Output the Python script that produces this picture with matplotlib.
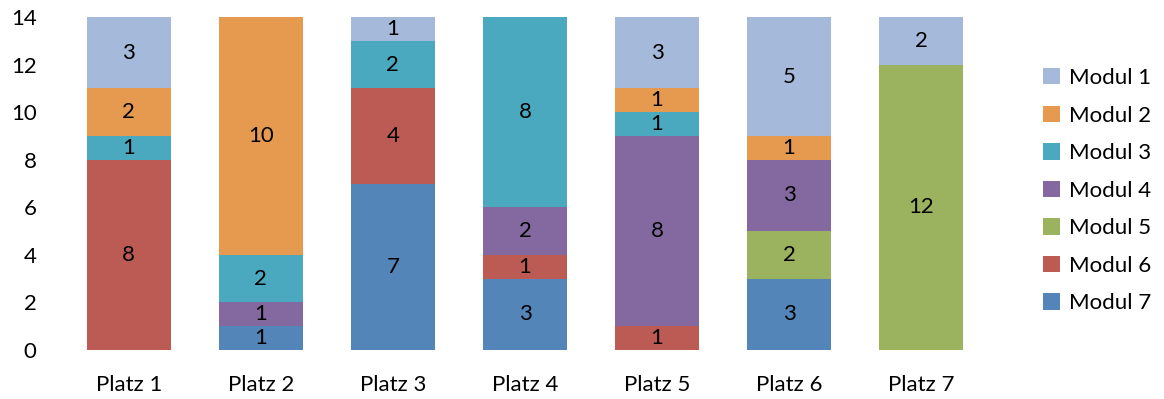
import numpy as np
import matplotlib.pyplot as plt

plt.rcParams['font.family'] = ['Lato', 'DejaVu Sans']

plaetze = ['Platz 1', 'Platz 2', 'Platz 3', 'Platz 4', 'Platz 5', 'Platz 6', 'Platz 7']
module = ['Modul 7', 'Modul 6', 'Modul 5', 'Modul 4', 'Modul 3', 'Modul 2', 'Modul 1']

# values per module, bottom of the stack first
modul7 = [0, 1, 7, 3, 0, 3, 0]
modul6 = [8, 0, 4, 1, 1, 0, 0]
modul5 = [0, 0, 0, 0, 0, 2, 12]
modul4 = [0, 1, 0, 2, 8, 3, 0]
modul3 = [1, 2, 2, 8, 1, 0, 0]
modul2 = [2, 10, 0, 0, 1, 1, 0]
modul1 = [3, 0, 1, 0, 3, 5, 2]

werte = [modul7, modul6, modul5, modul4, modul3, modul2, modul1]
farben = ['#5385b9', '#bb5b54', '#9bb25f', '#8369a0', '#4ba9bf', '#e69a4f', '#a5b9da']

fig = plt.figure(figsize=(11.64, 3.99), dpi=100)
ax = fig.add_axes([0.054, 0.123, 0.794, 0.834])

x = np.arange(len(plaetze))
unten = np.zeros(len(plaetze))
balken = []
for name, vals, farbe in zip(module, werte, farben):
    vals = np.array(vals)
    b = ax.bar(x, vals, 0.64, bottom=unten, color=farbe, label=name)
    balken.append(b)
    for xi, v, u in zip(x, vals, unten):
        if v > 0:
            ax.text(xi, u + v / 2, str(v), ha='center', va='center', fontsize=16)
    unten += vals

ax.set_xlim(-0.5, 6.5)
ax.set_ylim(0, 14)
ax.set_yticks(range(0, 15, 2))
ax.set_xticks(x)
ax.set_xticklabels(plaetze)
ax.tick_params(axis='both', length=0, labelsize=16)
ax.tick_params(axis='y', pad=19)
ax.tick_params(axis='x', pad=18)
for s in ax.spines.values():
    s.set_visible(False)

handles = balken[::-1]
fig.legend(handles, module[::-1], loc='center left', bbox_to_anchor=(0.879, 0.522),
           frameon=False, fontsize=16, handlelength=0.75, handleheight=0.75,
           labelspacing=0.79, handletextpad=0.4)

fig.savefig('out.png', dpi=100)
